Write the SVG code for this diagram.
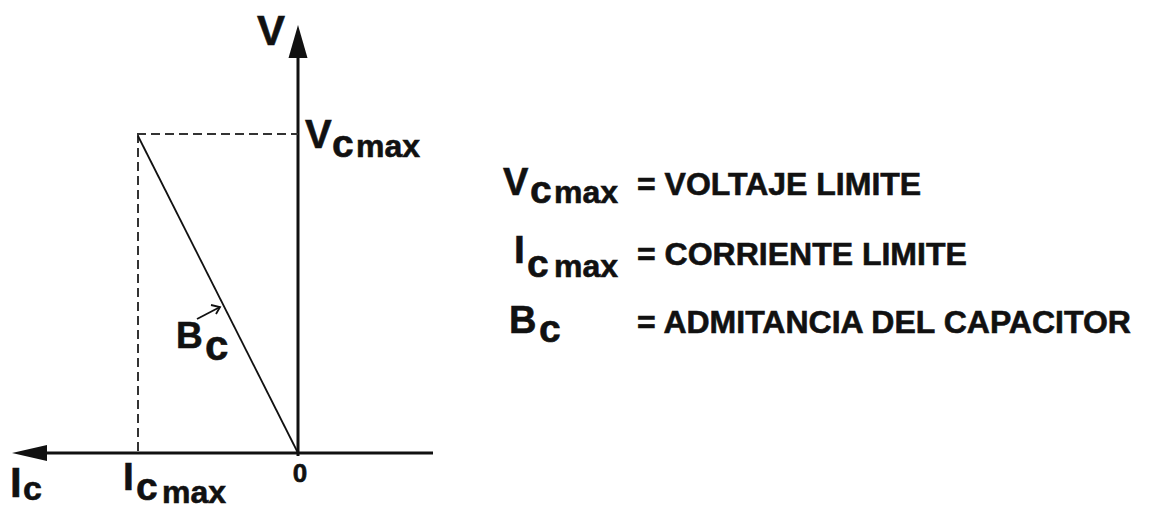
<svg xmlns="http://www.w3.org/2000/svg" width="1161" height="508" viewBox="0 0 1161 508">
<style>
text{font-family:"Liberation Sans",Arial,sans-serif;font-weight:bold;fill:#111;stroke:#111;stroke-width:0.6}
.ax{stroke:#111;stroke-width:3;fill:none}
.dash{stroke:#333;stroke-width:2;stroke-dasharray:9 5;fill:none}
.thin{stroke:#111;stroke-width:1.8;fill:none}
.big{font-size:40px}
.sub{font-size:39px}
.mx{font-size:32px}
.leg{font-size:32px}
</style>
<rect width="1161" height="508" fill="#fff"/>
<g id="axes">
<line class="ax" x1="298" y1="456" x2="298" y2="55"/>
<polygon points="298,25 288.5,58 307.5,58" fill="#111"/>
<line class="ax" x1="42" y1="453" x2="433" y2="453"/>
<polygon points="12,453 47,445 47,461" fill="#111"/>
</g>
<g id="guides">
<line class="dash" x1="137" y1="134" x2="298" y2="134"/>
<line class="dash" x1="138" y1="134" x2="138" y2="452"/>
</g>
<g id="connectors">
<line class="thin" x1="138" y1="136" x2="298" y2="453"/>
<g class="thin" stroke-width="1.5">
<line x1="197" y1="319" x2="220" y2="307"/>
<polyline points="211,305 220,307 216,314"/>
</g>
</g>
<g id="label-V"><text x="257" y="45" font-size="42">V</text></g>
<g id="label-Vcmax">
<text x="305" y="148" class="big">V</text>
<text x="332" y="157" class="sub">c</text>
<text x="356" y="157" class="mx">max</text>
</g>
<g id="label-Bc">
<text x="176" y="348" font-size="37">B</text>
<text x="205" y="360" font-size="42">c</text>
</g>
<g id="label-0"><text x="300" y="482" font-size="26" text-anchor="middle">0</text></g>
<g id="label-Icmax">
<text x="123" y="490" font-size="39">I</text>
<text x="136" y="500" class="sub">c</text>
<text x="162" y="503" class="mx">max</text>
</g>
<g id="label-Ic">
<text x="10" y="497" font-size="42">I</text>
<text x="23" y="500" font-size="34">c</text>
</g>
<g id="legend">
<g id="legend-V">
<text x="503" y="195" font-size="38">V</text>
<text x="530" y="203" class="sub">c</text>
<text x="554" y="203" class="mx">max</text>
<text x="637" y="195" class="leg">= VOLTAJE LIMITE</text>
</g>
<g id="legend-I">
<text x="514" y="263" font-size="39">I</text>
<text x="527" y="277" class="sub">c</text>
<text x="554" y="277" class="mx">max</text>
<text x="637" y="265" class="leg">= CORRIENTE LIMITE</text>
</g>
<g id="legend-B">
<text x="509" y="333" font-size="38">B</text>
<text x="539" y="342" class="sub">c</text>
<text x="637" y="333" class="leg">= ADMITANCIA DEL CAPACITOR</text>
</g>
</g>
</svg>
